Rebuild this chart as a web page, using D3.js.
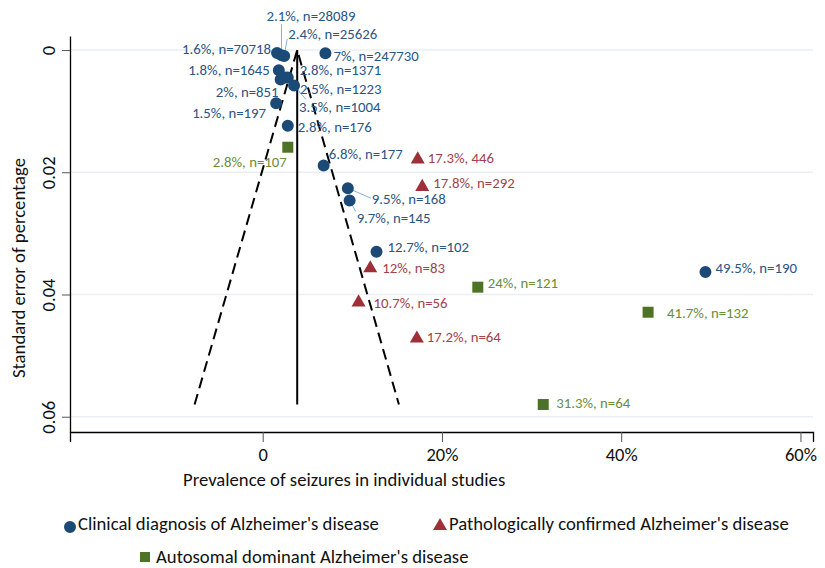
<!DOCTYPE html>
<html>
<head>
<meta charset="utf-8">
<script src="https://cdn.jsdelivr.net/npm/d3@7"></script>
<style>
  body { margin: 0; background: #fff; }
  svg text { font-family: Carlito, Calibri, Lato, sans-serif; }
</style>
</head>
<body>
<div class="chart"></div>
<script>
// data (x = prevalence %, y = standard error)
var clinicalLabels = ['1.6%, n=70718', '2.1%, n=28089', '2.4%, n=25626', '7%, n=247730', '1.8%, n=1645',
  '2.8%, n=1371', '2%, n=851', '2.5%, n=1223', '3.5%, n=1004', '1.5%, n=197', '2.8%, n=176',
  '6.8%, n=177', '9.5%, n=168', '9.7%, n=145', '12.7%, n=102', '49.5%, n=190'];
var clinicalX = [1.6, 2.1, 2.4, 7.0, 1.8, 2.8, 2.0, 2.5, 3.5, 1.5, 2.8, 6.8, 9.5, 9.7, 12.7, 49.4];
var clinicalSE = [0.00047, 0.00086, 0.00096, 0.00051, 0.0033, 0.0045, 0.0048, 0.0045, 0.0058, 0.0087,
  0.0124, 0.0189, 0.0226, 0.0246, 0.0330, 0.0363];

var pathoLabels = ['17.3%, 446', '17.8%, n=292', '12%, n=83', '10.7%, n=56', '17.2%, n=64'];
var pathoX = [17.3, 17.8, 12.0, 10.7, 17.2];
var pathoSE = [0.0179, 0.0224, 0.0357, 0.0413, 0.0472];

var adLabels = ['2.8%, n=107', '24%, n=121', '41.7%, n=132', '31.3%, n=64'];
var adX = [2.8, 24.0, 43.0, 31.3];
var adSE = [0.0159, 0.0388, 0.0429, 0.0580];

var pooled = 3.85;
var funnelLow = -7.6;
var funnelHigh = 15.2;
var funnelSE = 0.058;

var xTicks = [0, 20, 40, 60];
var xTickLabels = ['0', '20%', '40%', '60%'];
var yTicks = [0, 0.02, 0.04, 0.06];
var yTickLabels = ['0', '0.02', '0.04', '0.06'];

var legendNames = ["Clinical diagnosis of Alzheimer's disease", "Pathologically confirmed Alzheimer's disease",
  "Autosomal dominant Alzheimer's disease"];

// label placement: [dx, dy, anchor, leader end dx, leader end dy]
var clinicalPlace = [[-6, -4, 'end'], [-15, -39, 'start', 0, -31], [4, -22, 'start', 3, -17], [8, 3, 'start'],
  [-9, 0, 'end'], [12, -8, 'start'], [-2, 12, 'end'], [15, 11, 'start'], [5, 21, 'start', 12, 14],
  [-10, 10, 'end'], [10, 1, 'start'], [5, -12, 'start'], [24, 11, 'start', 23, 10],
  [7, 17, 'start', 6, 11], [11, -5, 'start'], [10, -4, 'start']];
var pathoPlace = [[10, -2, 'start'], [11, -4, 'start'], [12, 0, 'start'], [15, 0, 'start'], [10, -2, 'start']];
var adPlace = [[-1, 15, 'end'], [10, -4, 'start'], [19, 1, 'start'], [13, -2, 'start']];

var BLUE = '#1b4a76', BLUE_TXT = '#2a5583';
var RED = '#9d3038', RED_TXT = '#a3414a';
var GREEN = '#4e7324', GREEN_TXT = '#6a8c3c';

var width = 825, height = 568;
var svg = d3.select('.chart').append('svg')
  .attr('width', width)
  .attr('height', height);

var x = d3.scaleLinear().domain([-21.5, 61.4]).range([70, 813]);
var y = d3.scaleLinear().domain([-0.0023, 0.0625]).range([36, 432]);

// gridlines
svg.append('g').selectAll('line')
  .data(yTicks)
  .enter().append('line')
  .attr('x1', 70).attr('x2', 813)
  .attr('y1', function (d) { return y(d); })
  .attr('y2', function (d) { return y(d); })
  .attr('stroke', '#e9eff4')
  .attr('stroke-width', 1.5);

// axes
var xAxis = svg.append('g')
  .attr('transform', 'translate(0,432)')
  .call(d3.axisBottom(x).tickValues(xTicks).tickSize(10).tickPadding(6)
    .tickFormat(function (d, i) { return xTickLabels[i]; }));
xAxis.select('.domain').attr('stroke', '#000').attr('stroke-width', 1.3);
xAxis.selectAll('.tick line').attr('stroke', '#555').attr('stroke-width', 1);
xAxis.selectAll('.tick text').attr('font-size', 18.5).attr('fill', '#111');

var yAxis = svg.append('g')
  .attr('transform', 'translate(70,0)')
  .call(d3.axisLeft(y).tickValues(yTicks).tickSize(8).tickSizeOuter(0)
    .tickFormat(function (d, i) { return yTickLabels[i]; }));
yAxis.select('.domain').attr('stroke', '#000').attr('stroke-width', 1.3);
yAxis.selectAll('.tick line').attr('stroke', '#555').attr('stroke-width', 1);
yAxis.selectAll('.tick text')
  .attr('font-size', 18.5)
  .attr('fill', '#111')
  .attr('x', null).attr('dy', null)
  .attr('text-anchor', 'middle')
  .attr('transform', 'translate(-15,0) rotate(-90)');

svg.append('text')
  .attr('x', 183).attr('y', 486)
  .attr('font-size', 18.7)
  .attr('fill', '#111')
  .text('Prevalence of seizures in individual studies');

svg.append('text')
  .attr('transform', 'translate(25,268) rotate(-90)')
  .attr('text-anchor', 'middle')
  .attr('font-size', 18.7)
  .attr('fill', '#111')
  .text('Standard error of percentage');

// funnel
var line = d3.line()
  .x(function (d) { return x(d[0]); })
  .y(function (d) { return y(d[1]); });

svg.append('path')
  .attr('d', line([[funnelLow, funnelSE], [pooled, 0], [funnelHigh, funnelSE]]))
  .attr('fill', 'none')
  .attr('stroke', '#000')
  .attr('stroke-width', 2)
  .attr('stroke-dasharray', '11,6');

svg.append('path')
  .attr('d', line([[pooled, 0], [pooled, funnelSE]]))
  .attr('stroke', '#000')
  .attr('stroke-width', 2);

function drawGroup(xs, ses, labels, place, symbol, size, fill, txtFill) {
  var pts = xs.map(function (d, i) { return { x: d, se: ses[i], label: labels[i], p: place[i] }; });
  var g = svg.append('g');

  // leader lines
  g.selectAll('.leader')
    .data(pts.filter(function (d) { return d.p.length > 3; }))
    .enter().append('line')
    .attr('x1', function (d) { return x(d.x); })
    .attr('y1', function (d) { return y(d.se); })
    .attr('x2', function (d) { return x(d.x) + d.p[3]; })
    .attr('y2', function (d) { return y(d.se) + d.p[4]; })
    .attr('stroke', '#7fb0dd')
    .attr('stroke-width', 1);

  g.selectAll('.mark')
    .data(pts)
    .enter().append('path')
    .attr('transform', function (d) { return 'translate(' + x(d.x) + ',' + y(d.se) + ')'; })
    .attr('d', d3.symbol().type(symbol).size(size))
    .attr('fill', fill);

  g.selectAll('.lbl')
    .data(pts)
    .enter().append('text')
    .attr('x', function (d) { return x(d.x) + d.p[0]; })
    .attr('y', function (d) { return y(d.se) + d.p[1]; })
    .attr('dy', '0.35em')
    .attr('text-anchor', function (d) { return d.p[2]; })
    .attr('font-size', 14.8)
    .attr('fill', txtFill)
    .text(function (d) { return d.label; });
}

drawGroup(adX, adSE, adLabels, adPlace, d3.symbolSquare, 121, GREEN, GREEN_TXT);
drawGroup(clinicalX, clinicalSE, clinicalLabels, clinicalPlace, d3.symbolCircle, 113, BLUE, BLUE_TXT);
drawGroup(pathoX, pathoSE, pathoLabels, pathoPlace, d3.symbolTriangle, 85, RED, RED_TXT);

// legend
var legend = svg.append('g');
var legendItems = [
  { sym: d3.symbolCircle, size: 113, fill: BLUE, mx: 70, my: 527, tx: 78, ty: 523 },
  { sym: d3.symbolTriangle, size: 85, fill: RED, mx: 440, my: 526, tx: 449, ty: 523 },
  { sym: d3.symbolSquare, size: 100, fill: GREEN, mx: 145, my: 557, tx: 156, ty: 556 }
];
legendItems.forEach(function (d, i) {
  legend.append('path')
    .attr('transform', 'translate(' + d.mx + ',' + d.my + ')')
    .attr('d', d3.symbol().type(d.sym).size(d.size))
    .attr('fill', d.fill);
  legend.append('text')
    .attr('x', d.tx).attr('y', d.ty)
    .attr('dy', '0.35em')
    .attr('font-size', 18.7)
    .attr('fill', '#111')
    .text(legendNames[i]);
});
</script>
</body>
</html>
